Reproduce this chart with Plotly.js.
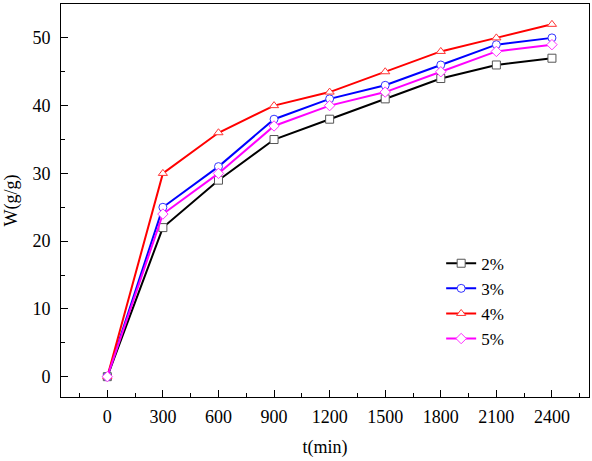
<!DOCTYPE html>
<html>
<head>
<meta charset="utf-8">
<script src="https://cdn.plot.ly/plotly-3.0.1.min.js"></script>
<style>
  html, body { margin: 0; padding: 0; background: #fff; }
  #chart { width: 592px; height: 461px; }
</style>
</head>
<body>
<div id="chart"></div>
<script>
// tiempo (min)
var tiempos = [0, 300, 600, 900, 1200, 1500, 1800, 2100, 2400];

// W(g/g) por concentración
var serie2 = [0, 22, 29, 35, 38, 41, 44, 46, 47];
var serie3 = [0, 25, 31, 38, 41, 43, 46, 49, 50];
var serie4 = [0, 30, 36, 40, 42, 45, 48, 50, 52];
var serie5 = [0, 24, 30, 37, 40, 42, 45, 48, 49];

var nombres = ['2%', '3%', '4%', '5%'];
var xTicks = [0, 300, 600, 900, 1200, 1500, 1800, 2100, 2400];
var yTicks = [0, 10, 20, 30, 40, 50];

var fuente = 'Liberation Serif';

function traza(y, nombre, color, lineColor, simbolo) {
    return {
        x: tiempos,
        y: y,
        name: nombre,
        type: 'scatter',
        mode: 'lines+markers',
        line: { color: lineColor, width: 2 },
        marker: {
            symbol: simbolo,
            size: 8,
            color: 'white',
            line: { color: color, width: 1 }
        }
    };
}

var data = [
    traza(serie2, nombres[0], '#555555', '#000000', 'square'),
    traza(serie3, nombres[1], '#3333ff', '#0000ff', 'circle'),
    traza(serie4, nombres[2], '#ff3333', '#ff0000', 'triangle-up'),
    traza(serie5, nombres[3], '#ff33ff', '#ff00ff', 'diamond')
];

var layout = {
    width: 592,
    height: 461,
    margin: { l: 61, r: 3, t: 4, b: 64 },
    paper_bgcolor: 'white',
    plot_bgcolor: 'white',
    font: { family: fuente, size: 18, color: '#000' },
    showlegend: true,
    xaxis: {
        range: [-250, 2600],
        tickvals: xTicks,
        ticktext: xTicks.map(String),
        ticks: 'inside',
        ticklen: 7,
        tickcolor: '#000',
        showline: true,
        linecolor: '#000',
        linewidth: 1,
        mirror: true,
        showgrid: false,
        zeroline: false,
        minor: { dtick: 150, tick0: 0, ticks: 'inside', ticklen: 4, tickcolor: '#000', showgrid: false },
        tickfont: { family: fuente, size: 18 },
        ticklabelstandoff: 3,
        title: { text: 't(min)', font: { family: fuente, size: 18 }, standoff: 14 }
    },
    yaxis: {
        range: [-3, 55],
        tickvals: yTicks,
        ticktext: yTicks.map(String),
        ticks: 'inside',
        ticklen: 7,
        tickcolor: '#000',
        showline: true,
        linecolor: '#000',
        linewidth: 1,
        mirror: true,
        showgrid: false,
        zeroline: false,
        minor: { dtick: 5, tick0: 0, ticks: 'inside', ticklen: 4, tickcolor: '#000', showgrid: false },
        tickfont: { family: fuente, size: 18 },
        ticklabelstandoff: 6,
        title: { text: 'W(g/g)', font: { family: fuente, size: 18 }, standoff: 10 }
    },
    legend: {
        x: 0.72,
        y: 0.385,
        xanchor: 'left',
        yanchor: 'top',
        bgcolor: 'rgba(0,0,0,0)',
        borderwidth: 0,
        font: { family: fuente, size: 17 },
        tracegroupgap: 0
    }
};

Plotly.newPlot('chart', data, layout, { displayModeBar: false, staticPlot: true });
</script>
</body>
</html>
